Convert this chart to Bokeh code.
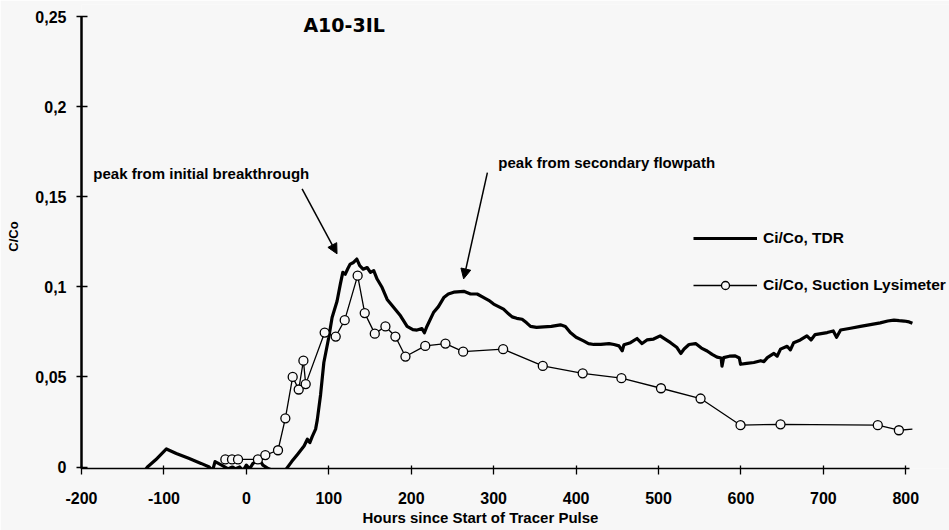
from bokeh.plotting import figure
from bokeh.models import (Range1d, FixedTicker, CustomJSTickFormatter, Label, Arrow,
                          NormalHead, Legend, LegendItem, Title)
from bokeh.embed import file_html
from bokeh.resources import INLINE

# ---------------- data ----------------
tdr_hours = [-125, -120, -110, -97, -85, -70, -55, -45, -41, -38, -30, -22, -17, -13, -8, -4, 0, 4, 8,
             12, 16, 20, 27, 33, 40, 47, 55, 62, 70, 74, 77, 80, 84, 86, 90, 94, 100, 104, 110, 114,
             117, 120, 123, 126, 130, 134, 137.5, 141.6, 146.5, 150.5, 154.5, 158.6, 164.7, 170.8,
             178.8, 187, 195, 202, 207, 213, 216, 219, 227, 233, 239.5, 245, 251.6, 263.7, 272, 280,
             288, 294, 300, 306, 312, 318, 322.4, 328, 334.5, 340, 344.7, 352, 360.8, 370, 381, 387,
             393, 400, 409, 415, 421.6, 430, 440, 446, 452, 456, 458, 466, 474, 480, 486, 494, 502,
             508, 514.6, 522, 527, 531, 537, 545, 552, 559, 565, 571, 576, 577, 579, 586, 593, 598,
             599.5, 607, 615.7, 624, 628, 632, 640, 644, 648, 656, 660, 664, 672, 680, 685, 690,
             704.6, 712, 716, 720.9, 733, 745, 757, 769, 778, 785.6, 792, 798, 804, 808]
tdr_values = [-0.003, 0.0, 0.004, 0.010, 0.0075, 0.0048, 0.002, 0.0, -0.002, 0.003, 0.001, -0.001,
              0.0, -0.001, 0.0, -0.002, 0.001, -0.001, 0.002, 0.003, 0.004, 0.001, -0.001, -0.002,
              -0.0022, -0.002, 0.003, 0.007, 0.0117, 0.0154, 0.0135, 0.017, 0.021, 0.026, 0.040,
              0.058, 0.072, 0.083, 0.092, 0.1015, 0.108, 0.107, 0.110, 0.1126, 0.1135, 0.1154,
              0.1117, 0.1098, 0.1107, 0.108, 0.109, 0.1043, 0.0996, 0.093, 0.0885, 0.0839, 0.078,
              0.0762, 0.076, 0.0768, 0.0745, 0.078, 0.0857, 0.089, 0.094, 0.096, 0.097, 0.0975,
              0.096, 0.096, 0.094, 0.0925, 0.0904, 0.089, 0.0876, 0.085, 0.0833, 0.0825, 0.082,
              0.080, 0.078, 0.0775, 0.0778, 0.078, 0.0789, 0.078, 0.0746, 0.072, 0.070, 0.0685,
              0.068, 0.068, 0.0685, 0.068, 0.0672, 0.0645, 0.0678, 0.069, 0.0713, 0.0685, 0.0705,
              0.071, 0.0728, 0.071, 0.069, 0.0665, 0.063, 0.0655, 0.068, 0.0685, 0.066, 0.0644,
              0.0625, 0.061, 0.0605, 0.056, 0.0607, 0.0615, 0.0617, 0.0605, 0.057, 0.0575, 0.058,
              0.059, 0.0585, 0.0607, 0.063, 0.0615, 0.0654, 0.067, 0.065, 0.069, 0.0705, 0.0728,
              0.0705, 0.0735, 0.0746, 0.0755, 0.072, 0.076, 0.077, 0.078, 0.079, 0.080, 0.081,
              0.0815, 0.0812, 0.081, 0.0805, 0.0798]

lys_hours = [-25.5, -17.4, -10.1, 14, 23, 38.4, 47.3, 56.2, 63.5, 69.2, 72, 95, 108.4, 119.3, 135,
             143.6, 155.8, 168.7, 180.8, 193, 217, 241.5, 263, 311.5, 359.6, 408, 455, 503, 551,
             599.5, 648, 766, 791.6]
lys_values = [0.0042, 0.0042, 0.0042, 0.0042, 0.0066, 0.0093, 0.027, 0.050, 0.043, 0.059, 0.046,
              0.0746, 0.0724, 0.0815, 0.1062, 0.0854, 0.074, 0.078, 0.0724, 0.0613, 0.0672, 0.0685,
              0.064, 0.0654, 0.0561, 0.052, 0.0493, 0.0437, 0.038, 0.0232, 0.0237, 0.0232, 0.0204]
# the lysimeter line runs on a little past its last sample
lys_line_hours = lys_hours + [808]
lys_line_values = lys_values + [0.021]

x_ticks = [-200, -100, 0, 100, 200, 300, 400, 500, 600, 700, 800]
y_ticks = [0, 0.05, 0.1, 0.15, 0.2, 0.25]

title_text = "A10-3IL"
x_label = "Hours since Start of Tracer Pulse"
y_label = "C/Co"
tdr_label = "Ci/Co, TDR"
lys_label = "Ci/Co, Suction Lysimeter"
note1 = "peak from initial breakthrough"
note2 = "peak from secondary flowpath"

# ---------------- figure ----------------
BG = "#f7f7f7"
FONT = "Liberation Sans"

p = figure(width=949, height=530, output_backend="svg", toolbar_location=None,
           x_range=Range1d(-200, 853), y_range=Range1d(-0.000832, 0.25666),
           min_border_left=81, min_border_right=0, min_border_top=4, min_border_bottom=62,
           background_fill_color=BG, border_fill_color=BG, outline_line_color=None)
p.grid.visible = False

# axes
xa = p.xaxis[0]
xa.ticker = FixedTicker(ticks=x_ticks)
xa.bounds = (-200, 805)
xa.axis_line_width = 1.5
xa.major_tick_in = 3
xa.major_tick_out = 6
xa.major_tick_line_width = 1.3
xa.minor_tick_line_color = None
xa.major_label_standoff = 17
xa.major_label_text_font = FONT
xa.major_label_text_font_style = "bold"
xa.major_label_text_font_size = "16px"
xa.major_label_text_color = "black"
xa.formatter = CustomJSTickFormatter(code="return String(Math.round(tick));")

ya = p.yaxis[0]
ya.ticker = FixedTicker(ticks=y_ticks)
ya.bounds = (-0.004, 0.25)
ya.axis_line_width = 2.5
ya.major_tick_in = 6
ya.major_tick_out = 5
ya.major_tick_line_width = 1.5
ya.minor_tick_line_color = None
ya.major_label_standoff = 10
ya.major_label_text_font = FONT
ya.major_label_text_font_style = "bold"
ya.major_label_text_font_size = "16px"
ya.major_label_text_color = "black"
ya.formatter = CustomJSTickFormatter(code="""
if (tick == 0) return "0";
const s = (Math.round(tick * 100) / 100).toString();
return s.replace('.', ',');
""")
ya.axis_label = y_label
ya.axis_label_standoff = 11
ya.axis_label_text_font = FONT
ya.axis_label_text_font_style = "bold"
ya.axis_label_text_font_size = "13px"
ya.axis_label_text_color = "black"

# x axis title, placed under the tick labels
p.add_layout(Title(text=x_label, align="left", offset=281, standoff=0,
                   text_font=FONT, text_font_style="bold", text_font_size="15px",
                   text_color="black"), "below")

# series
r_tdr = p.line(tdr_hours, tdr_values, line_color="black", line_width=3.2, line_join="round")
r_lys_line = p.line(lys_line_hours, lys_line_values, line_color="black", line_width=1.3)
r_lys_pts = p.scatter(lys_hours, lys_values, marker="circle", size=9, fill_color=BG,
                      line_color="black", line_width=1.3)

# legend
legend = Legend(items=[LegendItem(label=tdr_label, renderers=[r_tdr]),
                       LegendItem(label=lys_label, renderers=[r_lys_line, r_lys_pts])],
                location=(612, 173), orientation="vertical",
                glyph_width=64, glyph_height=20, label_height=20, label_standoff=6,
                spacing=27, padding=0, margin=0,
                border_line_color=None, background_fill_alpha=0,
                label_text_font=FONT, label_text_font_style="bold",
                label_text_font_size="15.5px", label_text_color="black")
p.add_layout(legend, "center")

# texts
p.add_layout(Label(x=69.2, y=0.2455, text=title_text, text_font="DejaVu Sans",
                   text_font_style="bold", text_font_size="19px", text_baseline="alphabetic",
                   text_color="black"))
p.add_layout(Label(x=-185.6, y=0.1626, text=note1, text_font=FONT, text_font_style="bold",
                   text_font_size="15px", text_baseline="alphabetic", text_color="black"))
p.add_layout(Label(x=305.7, y=0.169, text=note2, text_font=FONT, text_font_style="bold",
                   text_font_size="15px", text_baseline="alphabetic", text_color="black"))

# arrows
p.add_layout(Arrow(end=NormalHead(size=10, fill_color="black", line_color="black"),
                   x_start=67.6, y_start=0.1544, x_end=110.0, y_end=0.1183,
                   line_width=1.5, line_color="black"))
p.add_layout(Arrow(end=NormalHead(size=10, fill_color="black", line_color="black"),
                   x_start=292.4, y_start=0.1634, x_end=263.6, y_end=0.1044,
                   line_width=1.5, line_color="black"))

open("out.html", "w").write(file_html(p, INLINE))
